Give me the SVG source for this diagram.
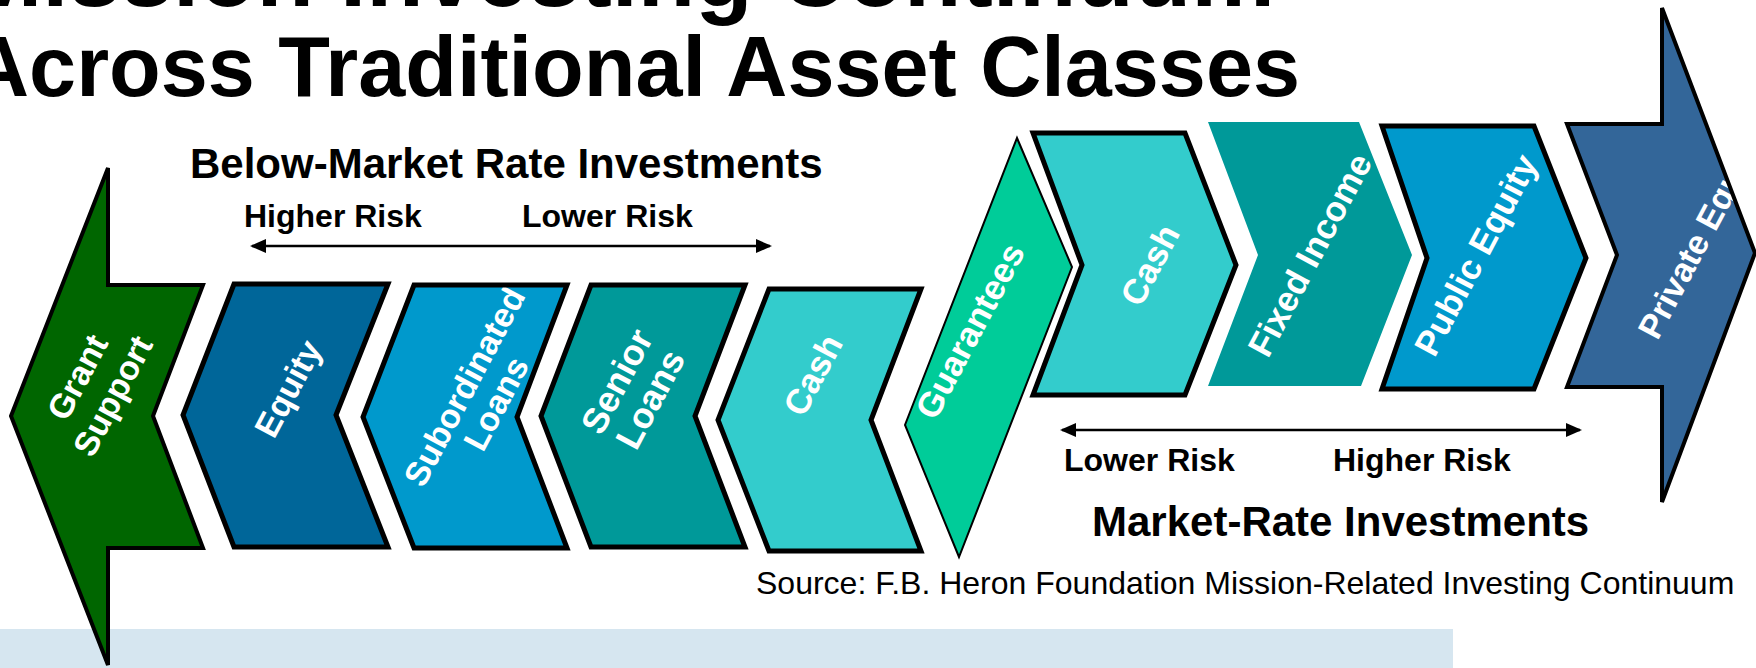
<svg xmlns="http://www.w3.org/2000/svg" xmlns:xlink="http://www.w3.org/1999/xlink" width="1756" height="668" viewBox="0 0 1756 668">
  <style>
    .title { font-family: "Liberation Sans", Arial, sans-serif; font-weight: bold; fill: #000; }
    .head { font-family: "Liberation Sans", Arial, sans-serif; font-weight: bold; font-size: 42px; fill: #000; }
    .risk { font-family: "Liberation Sans", Arial, sans-serif; font-weight: bold; font-size: 32px; fill: #000; }
    .src { font-family: "Liberation Sans", Arial, sans-serif; font-size: 32px; fill: #000; }
    .lbl { font-family: "Liberation Sans", Arial, sans-serif; font-weight: bold; font-size: 34px; fill: #fff; text-anchor: middle; }
    .lbl-r { font-size: 35px; }
    .lbl-l { font-size: 36px; }
    .edge { fill: none; stroke: #000; stroke-width: 5; stroke-linejoin: miter; }
    .edge-mid { fill: none; stroke: #000; stroke-width: 4; stroke-linejoin: miter; }
    .edge-thin { fill: none; stroke: #000; stroke-width: 2; stroke-linejoin: miter; }
    .rule { stroke: #000; stroke-width: 2.5; fill: none; }
  </style>
  <defs>
    <marker id="head" viewBox="0 0 16 14" refX="14" refY="7" markerWidth="16" markerHeight="14" markerUnits="userSpaceOnUse" orient="auto-start-reverse">
      <path d="M0,0 L16,7 L0,14 z" fill="#000"/>
    </marker>
    <!-- shape outlines, filled and stroked through <use> -->
    <polygon id="s-grant" points="108,168 108,285 203,285 153,416 203,548 108,548 108,665 11,416"/>
    <polygon id="s-equity" points="234,284 388,284 336,415 388,547 234,547 183,415"/>
    <polygon id="s-sub" points="414,285 567,285 517,417 567,548 414,548 363,417"/>
    <polygon id="s-senior" points="591,285 745,285 695,416 745,547 591,547 541,416"/>
    <polygon id="s-cash1" points="769,289 921,289 871,420 921,551 769,551 718,420"/>
    <polygon id="s-guar" points="1017,138 1072,267 959,557 905,425"/>
    <polygon id="s-cash2" points="1033,133 1185,133 1236,265 1185,395 1033,395 1082,265"/>
    <polygon id="s-fixed" points="1208,122 1359,122 1412,255 1361,386 1208,386 1258,255"/>
    <polygon id="s-pub" points="1382,126 1534,126 1586,258 1534,389 1382,389 1427,258"/>
    <polygon id="s-priv" points="1662,8 1755,253 1662,502 1662,387 1567,387 1617,255 1567,124 1662,124"/>
  </defs>

  <rect width="1756" height="668" fill="#fff"/>

  <!-- footer band -->
  <rect id="band" x="0" y="629" width="1453" height="39" fill="#D6E6F0"/>

  <!-- title -->
  <g id="title">
    <text class="title" x="-36" y="6" font-size="94">Mission Investing Continuum</text>
    <text class="title" x="-32" y="96" font-size="85" textLength="1332" lengthAdjust="spacingAndGlyphs">Across Traditional Asset Classes</text>
  </g>

  <!-- section headings and risk labels -->
  <g id="labels">
    <text class="head" x="190" y="178">Below-Market Rate Investments</text>
    <text class="risk" x="244" y="227">Higher Risk</text>
    <text class="risk" x="522" y="227">Lower Risk</text>
    <text class="risk" x="1064" y="471">Lower Risk</text>
    <text class="risk" x="1333" y="471">Higher Risk</text>
    <text class="head" x="1092" y="536">Market-Rate Investments</text>
    <text class="src" x="756" y="594">Source: F.B. Heron Foundation Mission-Related Investing Continuum</text>
  </g>

  <!-- risk scale connectors -->
  <g id="connectors">
    <line class="rule" x1="252" y1="246" x2="770" y2="246" marker-start="url(#head)" marker-end="url(#head)"/>
    <line class="rule" x1="1062" y1="430" x2="1580" y2="430" marker-start="url(#head)" marker-end="url(#head)"/>
  </g>

  <!-- below-market side -->
  <g id="grant-support">
    <use xlink:href="#s-grant" fill="#006600"/>
    <text class="lbl" font-size="37" transform="translate(94,386) rotate(-62)"><tspan x="0" y="-7">Grant</tspan><tspan x="0" y="33">Support</tspan></text>
    <use xlink:href="#s-grant" class="edge-mid"/>
  </g>

  <g id="equity">
    <use xlink:href="#s-equity" fill="#006699"/>
    <text class="lbl" font-size="37" transform="translate(287,388) rotate(-62)" y="13">Equity</text>
    <use xlink:href="#s-equity" class="edge"/>
  </g>

  <g id="subordinated-loans">
    <use xlink:href="#s-sub" fill="#0099CC"/>
    <text class="lbl" transform="translate(480,395) rotate(-62)"><tspan x="0" y="-6">Subordinated</tspan><tspan x="0" y="30">Loans</tspan></text>
    <use xlink:href="#s-sub" class="edge"/>
  </g>

  <g id="senior-loans">
    <use xlink:href="#s-senior" fill="#009999"/>
    <text class="lbl lbl-l" transform="translate(633,390) rotate(-62)"><tspan x="0" y="-6">Senior</tspan><tspan x="0" y="32">Loans</tspan></text>
    <use xlink:href="#s-senior" class="edge"/>
  </g>

  <g id="cash-below">
    <use xlink:href="#s-cash1" fill="#33CCCC"/>
    <text class="lbl lbl-r" transform="translate(813,375) rotate(-62)" y="12">Cash</text>
    <use xlink:href="#s-cash1" class="edge"/>
  </g>

  <!-- bridge between the two sides -->
  <g id="guarantees">
    <use xlink:href="#s-guar" fill="#00CC99"/>
    <text class="lbl lbl-r" transform="translate(970,331) rotate(-62)" y="12">Guarantees</text>
    <use xlink:href="#s-guar" class="edge-thin"/>
  </g>

  <!-- market-rate side -->
  <g id="cash-market">
    <use xlink:href="#s-cash2" fill="#33CCCC"/>
    <text class="lbl lbl-r" transform="translate(1150,265) rotate(-62)" y="12">Cash</text>
    <use xlink:href="#s-cash2" class="edge"/>
  </g>

  <g id="fixed-income">
    <use xlink:href="#s-fixed" fill="#009999"/>
    <text class="lbl lbl-r" transform="translate(1310,255) rotate(-62)" y="12">Fixed Income</text>
  </g>

  <g id="public-equity">
    <use xlink:href="#s-pub" fill="#0099CC"/>
    <text class="lbl lbl-r" transform="translate(1476,255) rotate(-62)" y="12">Public Equity</text>
    <use xlink:href="#s-pub" class="edge"/>
  </g>

  <g id="private-equity">
    <use xlink:href="#s-priv" fill="#336699"/>
    <text class="lbl" font-size="32" transform="translate(1701,236) rotate(-62)" y="11">Private Equity</text>
    <use xlink:href="#s-priv" class="edge-mid"/>
  </g>
</svg>
